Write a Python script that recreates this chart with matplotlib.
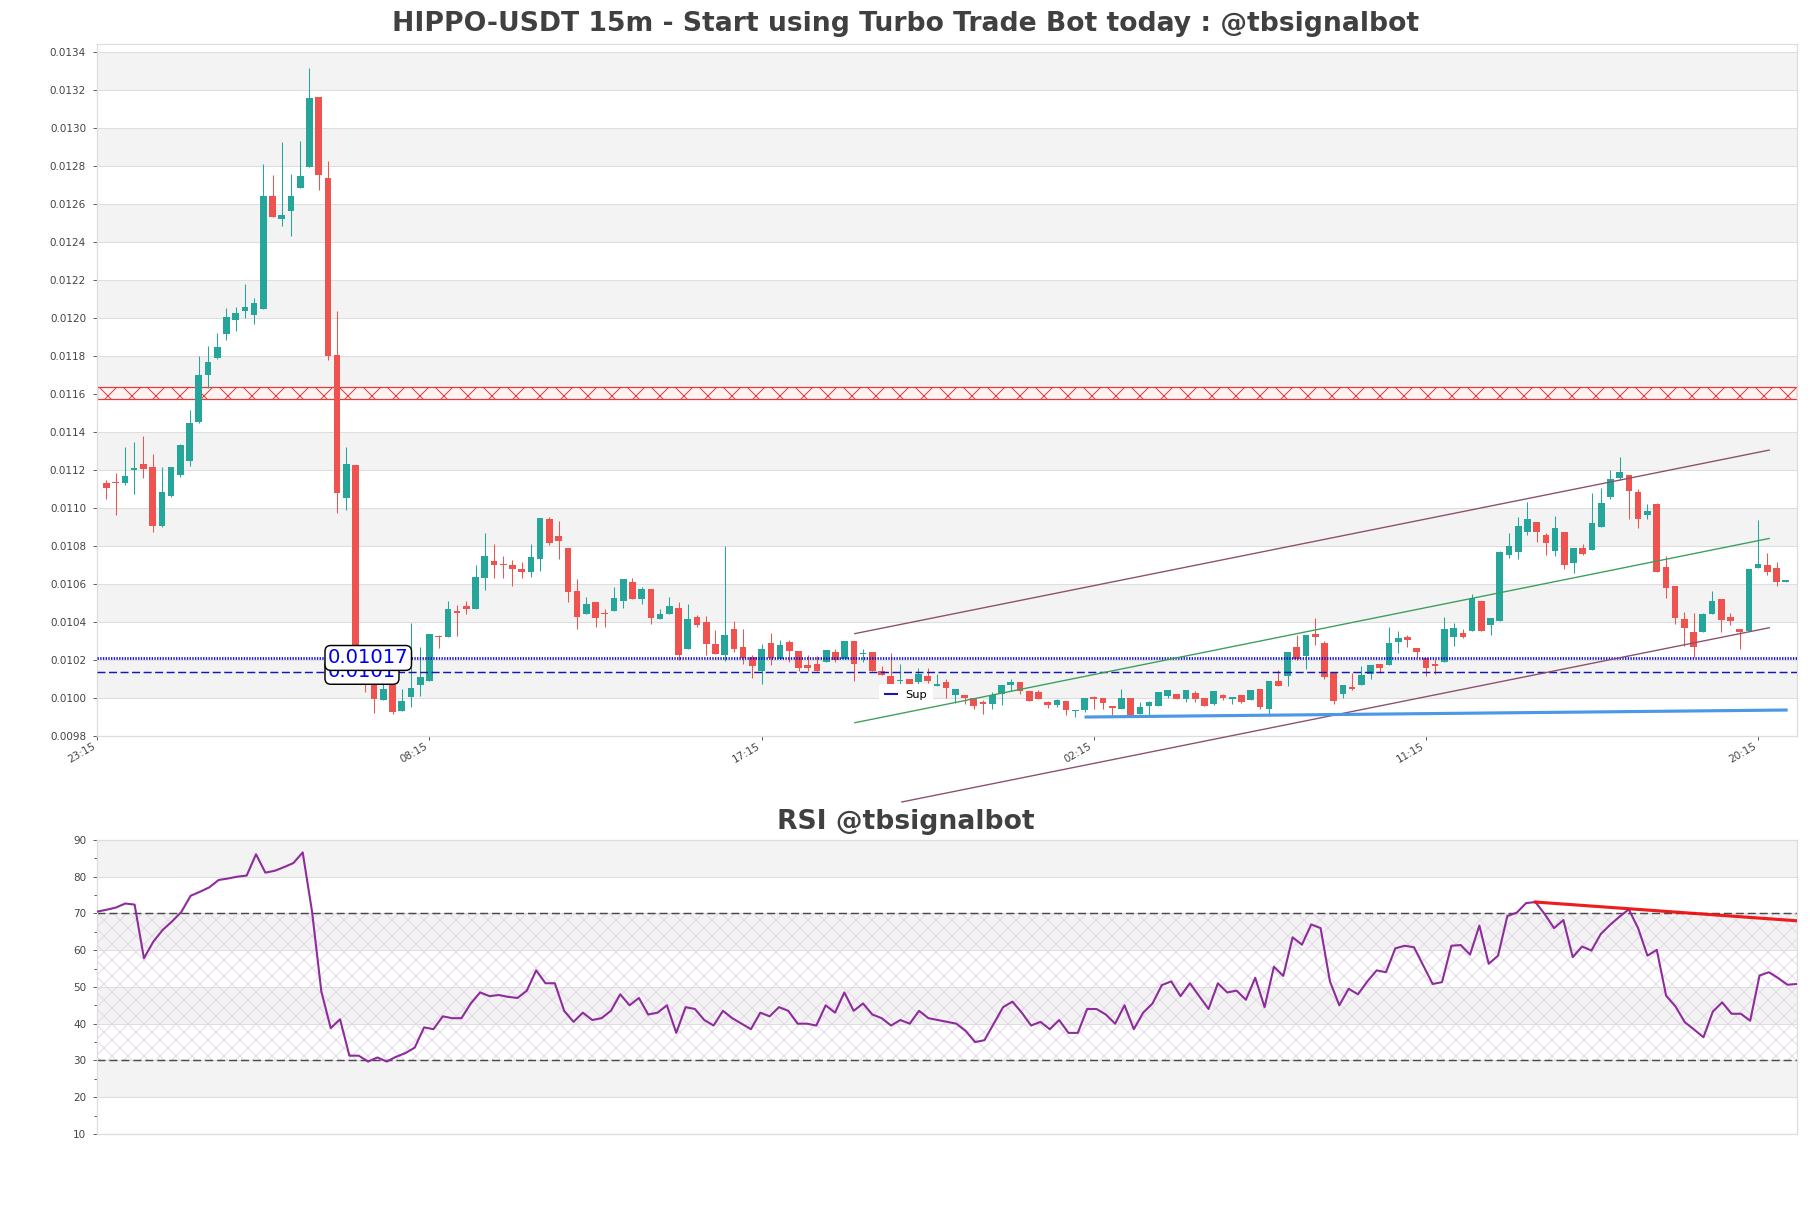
import matplotlib
matplotlib.use("Agg")
import matplotlib.pyplot as plt
import numpy as np

TITLE = "HIPPO-USDT 15m - Start using Turbo Trade Bot today : @tbsignalbot"
RSI_TITLE = "RSI @tbsignalbot"

# candles: open, high, low, close
opens = [
    0.011133, 0.011135, 0.011130, 0.011200, 0.011230, 0.011218, 0.010905, 0.011063, 0.011175, 0.011246,
    0.011451, 0.011699, 0.011790, 0.011914, 0.011988, 0.012035, 0.012014, 0.012048, 0.012644, 0.012523,
    0.012561, 0.012683, 0.012793, 0.013165, 0.012737, 0.011807, 0.011051, 0.011226, 0.010140, 0.010107,
    0.009990, 0.010069, 0.009932, 0.010004, 0.010069, 0.010090, 0.010328, 0.010319, 0.010457, 0.010484,
    0.010467, 0.010633, 0.010721, 0.010705, 0.010700, 0.010677, 0.010665, 0.010730, 0.010944, 0.010853,
    0.010789, 0.010565, 0.010440, 0.010505, 0.010447, 0.010458, 0.010510, 0.010611, 0.010520, 0.010575,
    0.010414, 0.010444, 0.010476, 0.010256, 0.010428, 0.010400, 0.010286, 0.010229, 0.010365, 0.010268,
    0.010214, 0.010144, 0.010291, 0.010204, 0.010295, 0.010249, 0.010175, 0.010177, 0.010190, 0.010242,
    0.010204, 0.010300, 0.010232, 0.010242, 0.010142, 0.010116, 0.010088, 0.010100, 0.010084, 0.010116,
    0.010061, 0.010084, 0.010014, 0.010014, 0.010002, 0.009979, 0.009967, 0.010019, 0.010067, 0.010084,
    0.010037, 0.010032, 0.009979, 0.009961, 0.009984, 0.009932, 0.009935, 0.010005, 0.010002, 0.009958,
    0.009944, 0.010002, 0.009918, 0.009958, 0.009956, 0.010010, 0.010019, 0.009993, 0.010028, 0.010002,
    0.009967, 0.010014, 0.009996, 0.010018, 0.009988, 0.010049, 0.009940, 0.010089, 0.010114, 0.010268,
    0.010221, 0.010338, 0.010291, 0.010132, 0.010019, 0.010058, 0.010067, 0.010125, 0.010181, 0.010175,
    0.010297, 0.010323, 0.010265, 0.010212, 0.010181, 0.010191, 0.010319, 0.010344, 0.010355, 0.010512,
    0.010384, 0.010405, 0.010753, 0.010770, 0.010872, 0.010925, 0.010858, 0.010774, 0.010872, 0.010712,
    0.010791, 0.010779, 0.010898, 0.011056, 0.011156, 0.011174, 0.011082, 0.010963, 0.011021, 0.010688,
    0.010590, 0.010414, 0.010346, 0.010346, 0.010442, 0.010519, 0.010428, 0.010363, 0.010353, 0.010686,
    0.010700, 0.010683, 0.010612,
]
highs = [
    0.011147, 0.011182, 0.011323, 0.011346, 0.011380, 0.011282, 0.011218, 0.011218, 0.011335, 0.011518,
    0.011802, 0.011855, 0.011921, 0.012053, 0.012058, 0.012181, 0.012106, 0.012812, 0.012755, 0.012925,
    0.012760, 0.012933, 0.013318, 0.013165, 0.012828, 0.012039, 0.011323, 0.011226, 0.010180, 0.010130,
    0.010107, 0.010081, 0.010048, 0.010393, 0.010270, 0.010339, 0.010331, 0.010512, 0.010490, 0.010512,
    0.010700, 0.010867, 0.010809, 0.010750, 0.010725, 0.010714, 0.010809, 0.010949, 0.010953, 0.010930,
    0.010789, 0.010628, 0.010532, 0.010505, 0.010467, 0.010584, 0.010628, 0.010633, 0.010584, 0.010575,
    0.010467, 0.010532, 0.010505, 0.010497, 0.010435, 0.010432, 0.010360, 0.010800, 0.010405, 0.010365,
    0.010225, 0.010286, 0.010342, 0.010304, 0.010304, 0.010249, 0.010225, 0.010219, 0.010255, 0.010260,
    0.010300, 0.010300, 0.010256, 0.010242, 0.010167, 0.010239, 0.010181, 0.010100, 0.010158, 0.010158,
    0.010128, 0.010102, 0.010046, 0.010014, 0.010002, 0.009988, 0.010032, 0.010070, 0.010102, 0.010084,
    0.010037, 0.010040, 0.009986, 0.009993, 0.009984, 0.009935, 0.010002, 0.010011, 0.010002, 0.009958,
    0.010046, 0.010002, 0.009979, 0.009982, 0.010032, 0.010044, 0.010023, 0.010044, 0.010037, 0.010002,
    0.010037, 0.010019, 0.010005, 0.010018, 0.010044, 0.010049, 0.010089, 0.010146, 0.010242, 0.010333,
    0.010333, 0.010421, 0.010298, 0.010132, 0.010070, 0.010132, 0.010168, 0.010175, 0.010181, 0.010374,
    0.010355, 0.010332, 0.010265, 0.010212, 0.010206, 0.010428, 0.010393, 0.010363, 0.010546, 0.010512,
    0.010420, 0.010776, 0.010867, 0.010954, 0.011030, 0.010925, 0.010867, 0.010960, 0.010872, 0.010788,
    0.010809, 0.011077, 0.011107, 0.011200, 0.011267, 0.011174, 0.011100, 0.011019, 0.011025, 0.010749,
    0.010590, 0.010455, 0.010446, 0.010446, 0.010565, 0.010519, 0.010446, 0.010363, 0.010677, 0.010937,
    0.010765, 0.010718, 0.010619,
]
lows = [
    0.011047, 0.010963, 0.011121, 0.011072, 0.011160, 0.010872, 0.010902, 0.011060, 0.011165, 0.011220,
    0.011450, 0.011632, 0.011784, 0.011883, 0.011930, 0.012000, 0.011970, 0.012048, 0.012530, 0.012483,
    0.012430, 0.012683, 0.012793, 0.012672, 0.011778, 0.010972, 0.010990, 0.010090, 0.010034, 0.009920,
    0.009990, 0.009915, 0.009930, 0.009955, 0.010013, 0.010090, 0.010265, 0.010319, 0.010328, 0.010440,
    0.010467, 0.010568, 0.010630, 0.010630, 0.010591, 0.010630, 0.010639, 0.010667, 0.010804, 0.010730,
    0.010505, 0.010362, 0.010440, 0.010374, 0.010374, 0.010458, 0.010474, 0.010520, 0.010497, 0.010391,
    0.010414, 0.010444, 0.010198, 0.010256, 0.010374, 0.010225, 0.010230, 0.010193, 0.010242, 0.010181,
    0.010105, 0.010074, 0.010172, 0.010204, 0.010190, 0.010140, 0.010140, 0.010140, 0.010190, 0.010190,
    0.010204, 0.010088, 0.010190, 0.010142, 0.010120, 0.010072, 0.010067, 0.010067, 0.010075, 0.010081,
    0.010061, 0.010002, 0.009976, 0.009967, 0.009940, 0.009914, 0.009944, 0.009961, 0.010037, 0.010019,
    0.009984, 0.009993, 0.009947, 0.009953, 0.009909, 0.009900, 0.009926, 0.009944, 0.009940, 0.009900,
    0.009944, 0.009905, 0.009918, 0.009912, 0.009956, 0.010002, 0.009996, 0.009979, 0.009979, 0.009956,
    0.009961, 0.009988, 0.009970, 0.009975, 0.009988, 0.009940, 0.009918, 0.010061, 0.010061, 0.010198,
    0.010154, 0.010277, 0.010098, 0.009970, 0.010000, 0.010044, 0.010067, 0.010102, 0.010133, 0.010175,
    0.010239, 0.010270, 0.010218, 0.010118, 0.010125, 0.010191, 0.010276, 0.010318, 0.010355, 0.010353,
    0.010332, 0.010405, 0.010739, 0.010732, 0.010858, 0.010823, 0.010753, 0.010749, 0.010679, 0.010656,
    0.010753, 0.010779, 0.010898, 0.011046, 0.011147, 0.010942, 0.010893, 0.010942, 0.010665, 0.010528,
    0.010390, 0.010276, 0.010218, 0.010346, 0.010442, 0.010346, 0.010384, 0.010258, 0.010353, 0.010686,
    0.010647, 0.010591, 0.010612,
]
closes = [
    0.011104, 0.011131, 0.011170, 0.011212, 0.011205, 0.010905, 0.011086, 0.011215, 0.011330, 0.011448,
    0.011700, 0.011769, 0.011850, 0.012007, 0.012027, 0.012058, 0.012079, 0.012644, 0.012530, 0.012544,
    0.012644, 0.012749, 0.013160, 0.012751, 0.011802, 0.011081, 0.011230, 0.010140, 0.010120, 0.009993,
    0.010048, 0.009925, 0.009986, 0.010051, 0.010109, 0.010339, 0.010322, 0.010467, 0.010447, 0.010467,
    0.010635, 0.010749, 0.010700, 0.010701, 0.010679, 0.010665, 0.010740, 0.010949, 0.010818, 0.010825,
    0.010558, 0.010425, 0.010495, 0.010421, 0.010440, 0.010528, 0.010625, 0.010520, 0.010575, 0.010423,
    0.010444, 0.010484, 0.010225, 0.010418, 0.010382, 0.010286, 0.010230, 0.010330, 0.010260, 0.010210,
    0.010167, 0.010260, 0.010212, 0.010281, 0.010246, 0.010158, 0.010158, 0.010140, 0.010255, 0.010198,
    0.010300, 0.010177, 0.010235, 0.010142, 0.010120, 0.010072, 0.010095, 0.010067, 0.010128, 0.010088,
    0.010072, 0.010054, 0.010046, 0.010002, 0.009956, 0.009967, 0.010018, 0.010070, 0.010084, 0.010037,
    0.009984, 0.009996, 0.009961, 0.009988, 0.009939, 0.009935, 0.010002, 0.009993, 0.009975, 0.009947,
    0.010002, 0.009909, 0.009953, 0.009979, 0.010032, 0.010044, 0.009996, 0.010044, 0.009996, 0.009956,
    0.010037, 0.010000, 0.010005, 0.009979, 0.010044, 0.009951, 0.010089, 0.010061, 0.010242, 0.010207,
    0.010333, 0.010319, 0.010110, 0.009984, 0.010070, 0.010049, 0.010119, 0.010175, 0.010160, 0.010290,
    0.010318, 0.010305, 0.010244, 0.010160, 0.010169, 0.010362, 0.010370, 0.010323, 0.010528, 0.010353,
    0.010420, 0.010767, 0.010802, 0.010907, 0.010940, 0.010872, 0.010818, 0.010893, 0.010700, 0.010788,
    0.010758, 0.010920, 0.011025, 0.011151, 0.011188, 0.011090, 0.010942, 0.010984, 0.010665, 0.010577,
    0.010420, 0.010367, 0.010267, 0.010441, 0.010512, 0.010411, 0.010405, 0.010346, 0.010677, 0.010704,
    0.010665, 0.010609, 0.010619,
]

rsi = [
    70.5, 71.0, 71.6, 72.7, 72.4, 57.8, 62.3, 65.5, 67.8, 70.4, 74.8, 75.9, 77.1, 79.1, 79.5, 80.0,
    80.3, 86.1, 81.1, 81.6, 82.6, 83.7, 86.6, 70.5, 48.7, 38.8, 41.2, 31.3, 31.3, 29.7, 30.8, 29.7,
    31.0, 32.0, 33.5, 39.0, 38.5, 42.0, 41.5, 41.5, 45.5, 48.5, 47.5, 47.8, 47.3, 47.0, 49.0, 54.5,
    51.0, 51.0, 43.5, 40.5, 43.0, 41.0, 41.5, 43.5, 48.0, 45.0, 47.0, 42.5, 43.0, 45.0, 37.5, 44.5,
    44.0, 41.0, 39.5, 43.5, 41.5, 40.0, 38.5, 43.0, 42.0, 44.5, 43.5, 40.0, 40.0, 39.5, 45.0, 43.0,
    48.5, 43.5, 45.5, 42.5, 41.5, 39.5, 41.0, 40.0, 43.5, 41.5, 41.0, 40.5, 40.0, 38.0, 35.0, 35.5,
    40.0, 44.5, 46.0, 43.0, 39.5, 40.5, 38.5, 41.0, 37.5, 37.5, 44.0, 44.0, 42.5, 40.0, 45.0, 38.5,
    43.0, 45.5, 50.5, 51.5, 47.5, 51.0, 47.5, 44.0, 51.0, 48.5, 49.0, 46.5, 52.5, 44.5, 55.5, 53.0,
    63.5, 61.5, 67.0, 66.0, 51.5, 45.0, 49.5, 48.0, 51.5, 54.5, 54.0, 60.5, 61.2, 60.8, 55.8, 50.8,
    51.3, 61.2, 61.4, 58.8, 66.7, 56.3, 58.5, 69.3, 70.2, 72.8, 73.1, 69.8, 66.0, 68.2, 58.1, 61.0,
    59.9, 64.4, 66.9, 69.1, 71.1, 66.0, 58.5, 60.1, 47.6, 44.7, 40.4, 38.4, 36.3, 43.3, 45.8, 42.7,
    42.7, 40.8, 53.1, 54.0, 52.4, 50.6, 50.8,
]

tick_pos = [-1, 35, 71, 107, 143, 179]
tick_labels = ["23:15", "08:15", "17:15", "02:15", "11:15", "20:15"]

# levels and trend lines (candle index, price)
zone_low, zone_high = 0.011574, 0.011637
level_dotted = 0.010211
level_dashed = 0.010138
label_dotted = "0.01017"
label_dashed = "0.0101"
upper_x, upper_y = [81.1, 180.2], [0.010339, 0.011305]
lower_x, lower_y = [86.2, 180.2], [0.009453, 0.010370]
mid_x, mid_y = [81.1, 180.2], [0.009870, 0.010840]
support_x, support_y = [106, 182.2], [0.009900, 0.009937]
rsi_trend_x, rsi_trend_y = [154, 182], [73.1, 68.0]

GREEN = "#26a69a"
RED = "#ef5350"
BAND = "#f3f3f3"
GRID = "#dedede"
TXT = "#444444"

DPI = 144
S = 150 / DPI  # keep pixel sizes tuned at 150 dpi

plt.rcParams["hatch.linewidth"] = 0.5

fig = plt.figure(figsize=(1811 / DPI, 1208 / DPI), dpi=DPI)
ax = fig.add_axes([0.0537, 0.3907, 0.9385, 0.5731])
ax2 = fig.add_axes([0.0537, 0.0613, 0.9385, 0.2434])

n = len(closes)
x = np.arange(n)
o = np.array(opens)
c = np.array(closes)
up = c >= o
colors = np.where(up, GREEN, RED)

# price axis
ymin, ymax = 0.0098, 0.013444
yt = np.round(np.arange(0.0098, 0.01341, 0.0002), 4)
for k in range(len(yt) - 1):
    if k % 2 == 1:
        ax.axhspan(yt[k], yt[k + 1], color=BAND, lw=0, zorder=0)
for v in yt:
    ax.axhline(v, color=GRID, lw=0.5 * S, zorder=0.5)

ax.axhspan(zone_low, zone_high, facecolor="#fff2f2", edgecolor="#e03c3c",
           hatch="xx", lw=0.6 * S, zorder=1)

ax.vlines(x, lows, highs, colors=colors, lw=0.5 * S, zorder=2)
bottoms = np.minimum(o, c)
heights = np.maximum(np.abs(c - o), 0.000004)
ax.bar(x, heights, bottom=bottoms, width=0.72, color=colors, lw=0, zorder=3)

ax.axhline(level_dotted, color="#1010d0", lw=1.3 * S, ls=(0, (0.5, 0.5)), zorder=4)
ax.axhline(level_dashed, color="#1818b0", lw=0.7 * S, ls=(0, (5.5, 2.4)), zorder=4,
           label="Sup")

ax.plot(upper_x, upper_y, color="#8c4f6e", lw=0.65 * S, zorder=4)
ax.plot(lower_x, lower_y, color="#8c4f6e", lw=0.65 * S, zorder=4, clip_on=False)
ax.plot(mid_x, mid_y, color="#3a9f5a", lw=0.65 * S, zorder=4)
ax.plot(support_x, support_y, color="#4a98e6", lw=1.5 * S, zorder=4,
        solid_capstyle="butt")

box = dict(boxstyle="round,pad=0.15,rounding_size=0.3", fc="white", ec="black", lw=0.7 * S)
ax.text(24.0, level_dashed, label_dashed, color="#0000ee", fontsize=9.4 * S,
        ha="left", va="center", bbox=box, zorder=6)
ax.text(24.0, level_dotted, label_dotted, color="#0000ee", fontsize=9.4 * S,
        ha="left", va="center", bbox=box, zorder=7)

leg = ax.legend(loc="center", bbox_to_anchor=(0.476, 0.059), fontsize=5.5 * S,
                handlelength=1.0, frameon=True, facecolor="white",
                edgecolor="none", framealpha=1, borderpad=0.5)
leg.set_zorder(8)
leg.legend_handles[0].set_linestyle("-")
leg.legend_handles[0].set_linewidth(1.0 * S)

ax.set_xlim(-1, n + 0.2)
ax.set_ylim(ymin, ymax)
ax.set_yticks(yt)
ax.set_yticklabels([f"{v:.4f}" for v in yt])
ax.set_xticks(tick_pos)
ax.set_xticklabels(tick_labels, rotation=30, ha="right")
ax.tick_params(labelsize=5 * S, colors=TXT, length=2 * S, width=0.4 * S)
ax.tick_params(axis="x", pad=0.5)
for s in ax.spines.values():
    s.set_color("#dddddd")
    s.set_linewidth(0.6 * S)

# RSI axis
rt = np.arange(10, 91, 10)
for lo in (20, 40, 60, 80):
    ax2.axhspan(lo, lo + 10, color=BAND, lw=0, zorder=0)
for v in rt:
    ax2.axhline(v, color=GRID, lw=0.5 * S, zorder=0.5)
ax2.axhspan(30, 70, facecolor="none", edgecolor="#e6d8ea", hatch="xxx", lw=0, zorder=1)
ax2.axhline(70, color="#4a4a4a", lw=0.7 * S, ls=(0, (5.5, 2.7)), zorder=2)
ax2.axhline(30, color="#4a4a4a", lw=0.7 * S, ls=(0, (5.5, 2.7)), zorder=2)
xr = np.arange(len(rsi))
ax2.plot(xr, rsi, color="#8e2c9c", lw=1.0 * S, zorder=3)
ax2.plot(rsi_trend_x, rsi_trend_y, color="#ee1111", lw=1.5 * S, zorder=4, alpha=0.95)
ax2.set_xlim(0, len(rsi) - 1)
ax2.set_ylim(10, 90)
ax2.set_yticks(rt)
ax2.set_yticks(np.arange(15, 90, 10), minor=True)
ax2.set_xticks([])
ax2.tick_params(labelsize=5 * S, colors=TXT, length=2 * S, width=0.4 * S)
ax2.tick_params(which="minor", length=1.5 * S, width=0.4 * S, colors=TXT)
for s in ax2.spines.values():
    s.set_color("#dddddd")
    s.set_linewidth(0.6 * S)

fig.text(0.5, 0.980, TITLE, ha="center", va="center", fontsize=12.8 * S,
         fontweight="bold", color="#404040")
fig.text(0.5, 0.3198, RSI_TITLE, ha="center", va="center", fontsize=12.8 * S,
         fontweight="bold", color="#404040")

fig.savefig("out.png", dpi=DPI)
plt.close("all")
